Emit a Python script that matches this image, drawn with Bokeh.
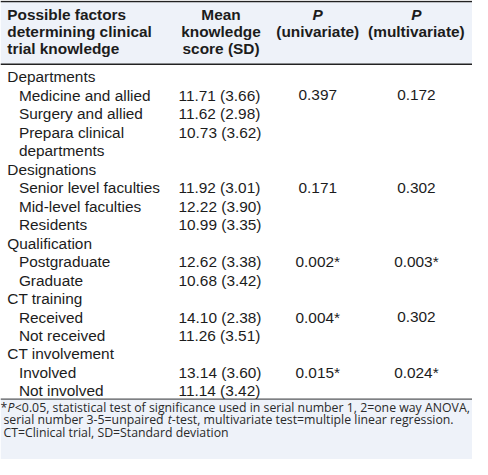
from bokeh.plotting import figure
from bokeh.models import ColumnDataSource, Range1d
from bokeh.core.properties import value
from bokeh.embed import file_html
from bokeh.resources import INLINE

# ---------------- data ----------------
header_factor = ["Possible factors", "determining clinical", "trial knowledge"]
header_mean = ["Mean", "knowledge", "score (SD)"]
header_uni = ["P", "(univariate)"]
header_multi = ["P", "(multivariate)"]

factor_labels = [
    "Departments", "Medicine and allied", "Surgery and allied", "Prepara clinical", "departments",
    "Designations", "Senior level faculties", "Mid-level faculties", "Residents",
    "Qualification", "Postgraduate", "Graduate",
    "CT training", "Received", "Not received",
    "CT involvement", "Involved", "Not involved",
]
factor_level = [0, 1, 1, 1, 1, 0, 1, 1, 1, 0, 1, 1, 0, 1, 1, 0, 1, 1]
mean_sd = [
    "", "11.71 (3.66)", "11.62 (2.98)", "10.73 (3.62)", "",
    "", "11.92 (3.01)", "12.22 (3.90)", "10.99 (3.35)",
    "", "12.62 (3.38)", "10.68 (3.42)",
    "", "14.10 (2.38)", "11.26 (3.51)",
    "", "13.14 (3.60)", "11.14 (3.42)",
]
p_univariate = [
    "", "0.397", "", "", "",
    "", "0.171", "", "",
    "", "0.002*", "",
    "", "0.004*", "",
    "", "0.015*", "",
]
p_multivariate = [
    "", "0.172", "", "", "",
    "", "0.302", "", "",
    "", "0.003*", "",
    "", "0.302", "",
    "", "0.024*", "",
]
footnote_1 = ["*", "P", "<0.05, statistical test of significance used in serial number 1, 2=one way ANOVA,"]
footnote_2 = ["serial number 3-5=unpaired", "t", "-test, multivariate test=multiple linear regression."]
footnote_3 = "CT=Clinical trial, SD=Standard deviation"

# ---------------- layout (reference pixel coordinates) ----------------
W, H = 488, 475
FONT = value("Liberation Sans")
TXT = "#1c1c1c"
BODY_SIZE = "15.4px"
HEAD_SIZE = "15.4px"
FOOT_SIZE = "12.3px"
FOOT_FONT = value("Open Sans")

row_y0, row_step = 79.0, 19.12
head_y0, head_step = 15.0, 17.5
x_cat, x_item, x_mean = 7, 19, 184
x_mean_head, x_uni, x_multi = 228, 328, 430

p = figure(width=472, height=459, x_range=Range1d(0, W), y_range=Range1d(H, 0),
           output_backend="svg", toolbar_location=None, min_border=0)
p.axis.visible = False
p.grid.visible = False
p.outline_line_color = None
p.background_fill_color = "white"
p.border_fill_color = "white"

# backgrounds
p.quad(left=0, right=W, top=1, bottom=66, fill_color="#eef2f9", line_color=None)
p.quad(left=0, right=W, top=412, bottom=H, fill_color="#eef2f9", line_color=None)
# rules
p.segment(x0=[0, 0], y0=[1, 66], x1=[W, W], y1=[1, 66], line_color="#222222", line_width=1.6)
p.segment(x0=[0], y0=[412.5], x1=[W], y1=[412.5], line_color="#333333", line_width=1.0)

# header
hy = [head_y0 + i * head_step for i in range(3)]
p.text(x=[x_cat] * 3, y=hy, text=header_factor, text_font=FONT, text_font_size=HEAD_SIZE,
       text_font_style="bold", text_baseline="middle", text_align="left", text_color=TXT)
p.text(x=[x_mean_head] * 3, y=hy, text=header_mean, text_font=FONT, text_font_size=HEAD_SIZE,
       text_font_style="bold", text_baseline="middle", text_align="center", text_color=TXT)
p.text(x=[x_uni, x_multi], y=[hy[0], hy[0]], text=[header_uni[0], header_multi[0]], text_font=FONT,
       text_font_size=HEAD_SIZE, text_font_style="bold italic", text_baseline="middle",
       text_align="center", text_color=TXT)
p.text(x=[x_uni, x_multi], y=[hy[1], hy[1]], text=[header_uni[1], header_multi[1]], text_font=FONT,
       text_font_size=HEAD_SIZE, text_font_style="bold", text_baseline="middle",
       text_align="center", text_color=TXT)

# body
ry = [row_y0 + i * row_step for i in range(len(factor_labels))]
src = ColumnDataSource(dict(
    y=ry,
    xl=[x_cat if lv == 0 else x_item for lv in factor_level],
    label=factor_labels,
    mean=mean_sd,
    uni=p_univariate,
    multi=p_multivariate,
    xm=[x_mean] * len(ry),
    xu=[x_uni] * len(ry),
    xv=[x_multi] * len(ry),
))
common = dict(text_font=FONT, text_font_size=BODY_SIZE, text_baseline="middle", text_color=TXT)
p.text(x="xl", y="y", text="label", source=src, text_align="left", **common)
p.text(x="xm", y="y", text="mean", source=src, text_align="left", **common)
p.text(x="xu", y="y", text="uni", source=src, text_align="center", **common)
p.text(x="xv", y="y", text="multi", source=src, text_align="center", **common)

# footnote
fy = [421, 434, 447]
fcommon = dict(text_font=FOOT_FONT, text_font_size=FOOT_SIZE, text_baseline="middle", text_color="#2a2a2a")
xP = 7.2
p.text(x=[xP - 0.3], y=[fy[0]], text=[footnote_1[0]], text_align="right", **fcommon)
p.text(x=[xP], y=[fy[0]], text=[footnote_1[1]], text_align="left", text_font_style="italic", **fcommon)
p.text(x=[xP + 7.6], y=[fy[0]], text=[footnote_1[2]], text_align="left", **fcommon)
xt = 173.0
p.text(x=[3], y=[fy[1]], text=[footnote_2[0]], text_align="left", **fcommon)
p.text(x=[xt], y=[fy[1]], text=[footnote_2[1]], text_align="left", text_font_style="italic", **fcommon)
p.text(x=[xt + 4.0], y=[fy[1]], text=[footnote_2[2]], text_align="left", **fcommon)
p.text(x=[3], y=[fy[2]], text=[footnote_3], text_align="left", **fcommon)

open("out.html", "w").write(file_html(p, INLINE))
